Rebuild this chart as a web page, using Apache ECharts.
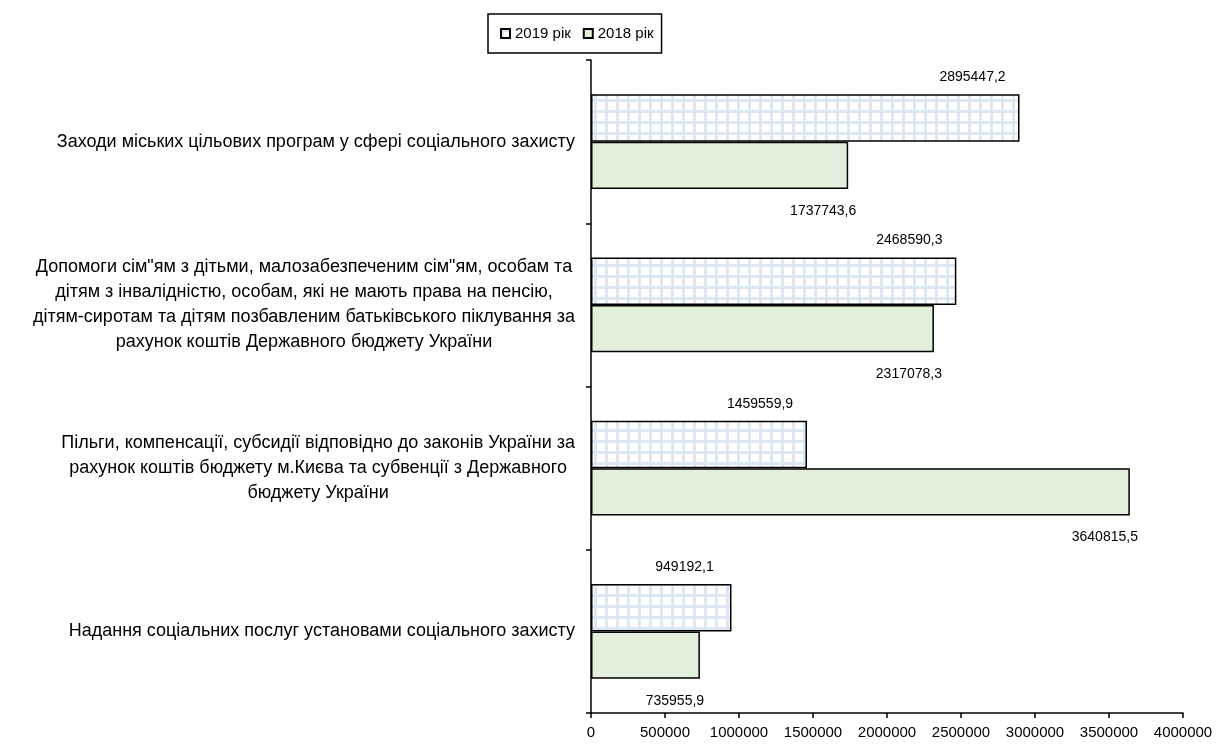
<!DOCTYPE html>
<html>
<head>
<meta charset="utf-8">
<script src="https://cdn.jsdelivr.net/npm/echarts@6/dist/echarts.min.js"></script>
<style>
html,body{margin:0;padding:0;background:#fff;}
#chart{width:1219px;height:745px;}
</style>
</head>
<body>
<div id="chart"></div>
<script>
var categories = [
  "Заходи міських цільових програм у сфері соціального захисту",
  "Допомоги сім\"ям з дітьми, малозабезпеченим сім\"ям, особам та\nдітям з інвалідністю, особам, які не мають права на пенсію,\nдітям-сиротам та дітям позбавленим батьківського піклування за\nрахунок коштів Державного бюджету України",
  "Пільги, компенсації, субсидії відповідно до законів України за\nрахунок коштів бюджету м.Києва та субвенції з Державного\nбюджету України",
  "Надання соціальних послуг установами соціального захисту"
];
var seriesNames = ["2019 рік", "2018 рік"];
var values2019 = [2895447.2, 2468590.3, 1459559.9, 949192.1];
var values2018 = [1737743.6, 2317078.3, 3640815.5, 735955.9];
var xTicks = {min: 0, max: 4000000, interval: 500000};

var FONT = '"Liberation Sans", Arial, sans-serif';

function makePattern() {
  var c = document.createElement('canvas');
  c.width = 11; c.height = 11;
  var ctx = c.getContext('2d');
  ctx.fillStyle = '#ffffff';
  ctx.fillRect(0, 0, 11, 11);
  ctx.fillStyle = '#dde7f4';
  ctx.fillRect(0, 0, 11, 3);
  ctx.fillRect(0, 0, 3, 11);
  return c;
}
var pattern = {image: makePattern(), repeat: 'repeat'};

function fmt(v) { return v.toFixed(1).replace('.', ','); }

var chart = echarts.init(document.getElementById('chart'), null, {renderer: 'canvas'});
chart.setOption({
  animation: false,
  backgroundColor: '#ffffff',
  textStyle: {fontFamily: FONT, color: '#000'},
  legend: {
    data: seriesNames,
    left: 488, top: 14,
    padding: [12, 8, 12, 12],
    itemGap: 12,
    itemWidth: 9, itemHeight: 9,
    borderColor: '#000', borderWidth: 1.5,
    icon: 'rect',
    textStyle: {fontSize: 15, color: '#000', fontFamily: FONT}
  },
  grid: {left: 591, right: 36, top: 60, bottom: 32, containLabel: false},
  xAxis: {
    type: 'value',
    min: xTicks.min, max: xTicks.max, interval: xTicks.interval,
    axisLine: {show: true, lineStyle: {color: '#000', width: 1.5}},
    axisTick: {show: true, length: 5, lineStyle: {color: '#000', width: 1.5}},
    splitLine: {show: false},
    axisLabel: {fontSize: 15, color: '#000', fontFamily: FONT, margin: 12,
      formatter: function (v) { return String(v); }}
  },
  yAxis: {
    type: 'category',
    inverse: true,
    data: categories,
    axisLine: {show: true, lineStyle: {color: '#000', width: 1.5}},
    axisTick: {show: true, length: 5, lineStyle: {color: '#000', width: 1.5}},
    axisLabel: {
      margin: 16,
      align: 'right',
      fontFamily: FONT,
      formatter: function (v) {
        return v.split('\n').map(function (l) { return '{c|' + l + '}'; }).join('\n');
      },
      rich: {c: {align: 'center', fontSize: 18, lineHeight: 25, color: '#000', fontFamily: FONT}}
    }
  },
  series: [
    {
      name: seriesNames[0], type: 'bar', data: values2019,
      barGap: '0%', barCategoryGap: '42%',
      itemStyle: {color: pattern, borderColor: '#000', borderWidth: 1.5},
      label: {
        show: true, position: ['100%', 0], offset: [-47, -17],
        align: 'center', verticalAlign: 'middle',
        fontSize: 14, color: '#000', fontFamily: FONT,
        formatter: function (p) { return fmt(p.value); }
      }
    },
    {
      name: seriesNames[1], type: 'bar', data: values2018,
      barGap: '0%', barCategoryGap: '42%',
      itemStyle: {color: '#e2efda', borderColor: '#000', borderWidth: 1.5},
      label: {
        show: true, position: ['100%', '100%'], offset: [-25, 22],
        align: 'center', verticalAlign: 'middle',
        fontSize: 14, color: '#000', fontFamily: FONT,
        formatter: function (p) { return fmt(p.value); }
      }
    }
  ]
});
</script>
</body>
</html>
